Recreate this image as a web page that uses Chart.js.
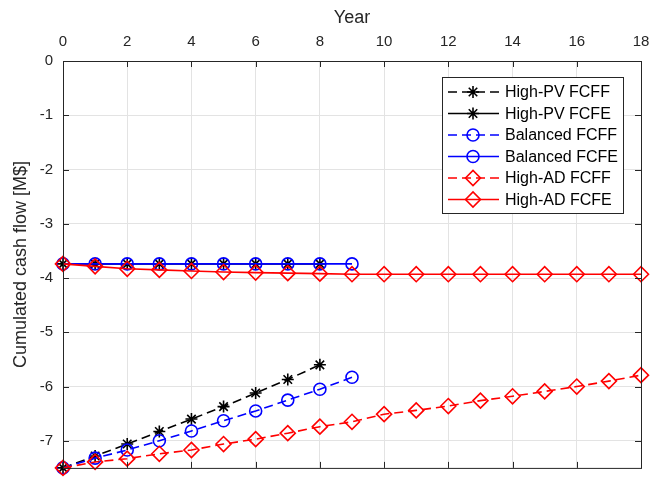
<!DOCTYPE html>
<html>
<head>
<meta charset="utf-8">
<script src="https://cdn.jsdelivr.net/npm/chart.js@4/dist/chart.umd.min.js"></script>
<style>
  html, body { margin: 0; padding: 0; background: #fff; }
  #wrap { width: 665px; height: 477px; position: relative; }
</style>
</head>
<body>
<div id="wrap"><canvas id="cashChart"></canvas></div>
<script>
// data
const years = [0, 1, 2, 3, 4, 5, 6, 7, 8, 9, 10, 11, 12, 13, 14, 15, 16, 17, 18];
const xTicks = [0, 2, 4, 6, 8, 10, 12, 14, 16, 18];
const yTicks = [0, -1, -2, -3, -4, -5, -6, -7];

const highPvFcff = [-7.5, -7.28, -7.06, -6.83, -6.60, -6.37, -6.12, -5.87, -5.60];
const highPvFcfe = [-3.74, -3.74, -3.74, -3.74, -3.74, -3.74, -3.74, -3.74, -3.74];
const balancedFcff = [-7.5, -7.32, -7.17, -7.00, -6.82, -6.63, -6.45, -6.25, -6.05, -5.83];
const balancedFcfe = [-3.74, -3.74, -3.74, -3.74, -3.74, -3.74, -3.74, -3.74, -3.74, -3.74];
const highAdFcff = [-7.5, -7.39, -7.33, -7.24, -7.17, -7.06, -6.97, -6.86, -6.74, -6.65,
                    -6.51, -6.44, -6.36, -6.26, -6.18, -6.09, -6.00, -5.90, -5.79];
const highAdFcfe = [-3.74, -3.785, -3.83, -3.85, -3.87, -3.89, -3.90, -3.91, -3.92, -3.93,
                    -3.93, -3.93, -3.93, -3.93, -3.93, -3.93, -3.93, -3.93, -3.93];

const seriesNames = ['High-PV FCFF', 'High-PV FCFE', 'Balanced FCFF', 'Balanced FCFE', 'High-AD FCFF', 'High-AD FCFE'];

const axisColor = '#262626';
const gridColor = '#e3e3e3';
const fontFamily = '"Liberation Sans", Arial, Helvetica, sans-serif';
const dash = [9, 5];

function toPoints(values) {
    return values.map((v, i) => ({ x: years[i], y: v }));
}

function makeSet(i, values, color, style, radius, dashed) {
    return {
        label: seriesNames[i],
        data: toPoints(values),
        borderColor: color,
        backgroundColor: 'rgba(0,0,0,0)',
        borderWidth: 1.6,
        borderDash: dashed ? dash : [],
        pointStyle: style,
        pointRadius: radius,
        pointHoverRadius: radius,
        pointBorderColor: color,
        pointBackgroundColor: 'rgba(0,0,0,0)',
        pointBorderWidth: 1.6,
        tension: 0,
        clip: false,
        order: 10 - i // matlab draws later series on top
    };
}

// frame with inward ticks, like matlab "box on"
const framePlugin = {
    id: 'frame',
    afterDatasetsDraw(chart) {
        const { ctx, chartArea: a, scales } = chart;
        const len = 6;
        ctx.save();
        ctx.strokeStyle = axisColor;
        ctx.lineWidth = 1;
        ctx.strokeRect(a.left + 0.5, a.top + 0.5, a.right - a.left, a.bottom - a.top);
        ctx.beginPath();
        xTicks.forEach(t => {
            const x = Math.round(scales.x.getPixelForValue(t)) + 0.5;
            ctx.moveTo(x, a.top); ctx.lineTo(x, a.top + len);
            ctx.moveTo(x, a.bottom); ctx.lineTo(x, a.bottom - len);
        });
        yTicks.forEach(t => {
            const y = Math.round(scales.y.getPixelForValue(t)) + 0.5;
            ctx.moveTo(a.left, y); ctx.lineTo(a.left + len, y);
            ctx.moveTo(a.right, y); ctx.lineTo(a.right - len, y);
        });
        ctx.stroke();
        ctx.restore();
    }
};

// legend box inside the axes, top right
const boxLegend = {
    id: 'boxLegend',
    afterDraw(chart) {
        const { ctx } = chart;
        const left = 442, top = 77, w = 181, h = 136;
        const rowH = 21.5;
        ctx.save();
        ctx.fillStyle = '#fff';
        ctx.fillRect(left, top, w, h);
        ctx.strokeStyle = axisColor;
        ctx.lineWidth = 1;
        ctx.strokeRect(left + 0.5, top + 0.5, w, h);
        chart.data.datasets.forEach((ds, i) => {
            const y = top + 15 + i * rowH;
            ctx.strokeStyle = ds.borderColor;
            ctx.lineWidth = ds.borderWidth;
            ctx.setLineDash(ds.borderDash);
            ctx.beginPath();
            ctx.moveTo(448, y);
            ctx.lineTo(499, y);
            ctx.stroke();
            ctx.setLineDash([]);
            ctx.fillStyle = 'rgba(0,0,0,0)';
            ctx.strokeStyle = ds.pointBorderColor;
            ctx.lineWidth = ds.pointBorderWidth;
            Chart.helpers.drawPoint(ctx, {
                pointStyle: ds.pointStyle,
                radius: ds.pointRadius,
                rotation: 0,
                borderWidth: ds.pointBorderWidth
            }, 473, y);
            ctx.fillStyle = '#000';
            ctx.font = '16px ' + fontFamily;
            ctx.textBaseline = 'middle';
            ctx.textAlign = 'left';
            ctx.fillText(ds.label, 505, y + 1);
        });
        ctx.restore();
    }
};

new Chart(document.getElementById('cashChart'), {
    type: 'line',
    data: {
        datasets: [
            makeSet(0, highPvFcff, '#000000', 'star', 6, true),
            makeSet(1, highPvFcfe, '#000000', 'star', 6, false),
            makeSet(2, balancedFcff, '#0000ff', 'circle', 6, true),
            makeSet(3, balancedFcfe, '#0000ff', 'circle', 6, false),
            makeSet(4, highAdFcff, '#ff0000', 'rectRot', 7.5, true),
            makeSet(5, highAdFcfe, '#ff0000', 'rectRot', 7.5, false)
        ]
    },
    options: {
        responsive: true,
        maintainAspectRatio: false,
        animation: false,
        layout: { padding: { left: 0, top: 0, right: 24, bottom: 9 } },
        plugins: {
            legend: { display: false },
            tooltip: { enabled: false }
        },
        scales: {
            x: {
                type: 'linear',
                position: 'top',
                min: 0,
                max: 18,
                afterBuildTicks: scale => { scale.ticks = xTicks.map(v => ({ value: v })); },
                afterFit: scale => { scale.height = 61; },
                ticks: {
                    color: axisColor,
                    font: { family: fontFamily, size: 15 },
                    padding: 10,
                    maxRotation: 0
                },
                grid: { color: gridColor, drawTicks: false },
                border: { display: false },
                title: {
                    display: true,
                    text: 'Year',
                    color: axisColor,
                    font: { family: fontFamily, size: 18 },
                    padding: { top: 7, bottom: 0 }
                }
            },
            y: {
                type: 'linear',
                min: -7.5,
                max: 0,
                afterBuildTicks: scale => { scale.ticks = yTicks.map(v => ({ value: v })); },
                afterFit: scale => {
                    scale.width = 63;
                    // tick-label padding would shrink the plot, drop it
                    scale.paddingTop = 0;
                    scale.paddingBottom = 0;
                },
                ticks: {
                    color: axisColor,
                    font: { family: fontFamily, size: 15 },
                    padding: 10
                },
                grid: { color: gridColor, drawTicks: false },
                border: { display: false },
                title: {
                    display: true,
                    text: 'Cumulated cash flow [M$]',
                    color: axisColor,
                    font: { family: fontFamily, size: 18 },
                    padding: { top: 10, bottom: 0 }
                }
            }
        }
    },
    plugins: [framePlugin, boxLegend]
});
</script>
</body>
</html>
